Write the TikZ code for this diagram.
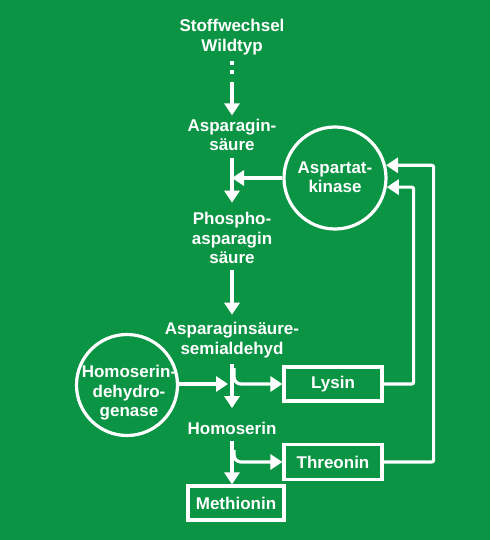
\documentclass[tikz,border=0pt]{standalone}
\usepackage{fontspec}
\setmainfont{Liberation Sans}
\usetikzlibrary{arrows.meta}
\definecolor{bg}{RGB}{10,148,68}
\begin{document}
\begin{tikzpicture}[x=1pt, y=-1pt, line width=3.2pt, draw=white,
  font=\fontsize{17}{19.5}\selectfont\bfseries,
  txt/.style={inner sep=2pt, align=center, text=white},
  circ/.style={circle, draw=white, minimum size=102pt, inner sep=0pt},
  box/.style={draw=white, text=white, minimum width=98pt, minimum height=34pt, inner sep=0pt},
  arr/.style={-{Triangle[length=12pt,width=15pt]}},
  dots/.style={dash pattern=on 4pt off 5pt}]
\fill[bg] (0,0) rectangle (490,540);
\useasboundingbox (0,0) rectangle (490,540);

% text nodes
\node[txt] (wt) at (232,37) {Stoffwechsel\\Wildtyp};
\node[txt] (asp) at (232,135) {Asparagin-\\säure};
\node[txt] (phos) at (232,238) {Phospho-\\asparagin\\säure};
\node[txt] (asa) at (232,340) {Asparaginsäure-\\semialdehyd};
\node[txt] (hom) at (232,428) {Homoserin};

% enzymes
\node[circ] (ak) at (335,178) {};
\node[txt] (akt) at (335,177) {Aspartat-\\kinase};
\node[circ, minimum size=101pt] (hd) at (127,385) {};
\node[txt] (hdt) at (129,393) {Homoserin-\\dehydro-\\genase};

% products
\node[box] (lys) at (333,384) {Lysin};
\node[box, minimum height=35pt] (thr) at (333,462) {Threonin};
\node[box, minimum width=96pt] (met) at (236,503) {Methionin};

% coordinates
\coordinate (d1) at (232,76);
\coordinate (d2) at (232,82);
\coordinate (b1) at (234,368);
\coordinate (b2) at (234,450);

% main pathway
\draw[dots, shorten <=3pt] (wt.south) -- (d1);
\draw[arr] (d2) -- (asp.north);
\draw[arr, shorten <=3pt, shorten >=6pt] (asp.south) -- (phos.north);
\draw[arr, shorten <=3pt, shorten >=4pt] (phos.south) -- (asa.north);
\draw[arr, shorten <=3pt, shorten >=10pt] (asa.south) -- (hom.north);
\draw[arr, shorten <=3pt] (hom.south) -- (hom.south |- met.north);

% enzyme actions
\draw[arr] (ak.west) -- (asp.south |- ak.west);
\draw[arr, shorten >=4pt] (hd.east |- lys.west) -- (asa.south |- lys.west);

% branches
\draw[arr, rounded corners=7pt] (b1) |- (lys.west);
\draw[arr, rounded corners=7pt] (b2) |- (thr.west);

% feedback
\draw[arr, rounded corners=2pt] (lys.east) -- ++(30,0) |- (ak.-10);
\draw[arr, rounded corners=2pt] (thr.east) -- ++(50,0) |- (ak.14);
\end{tikzpicture}
\end{document}
